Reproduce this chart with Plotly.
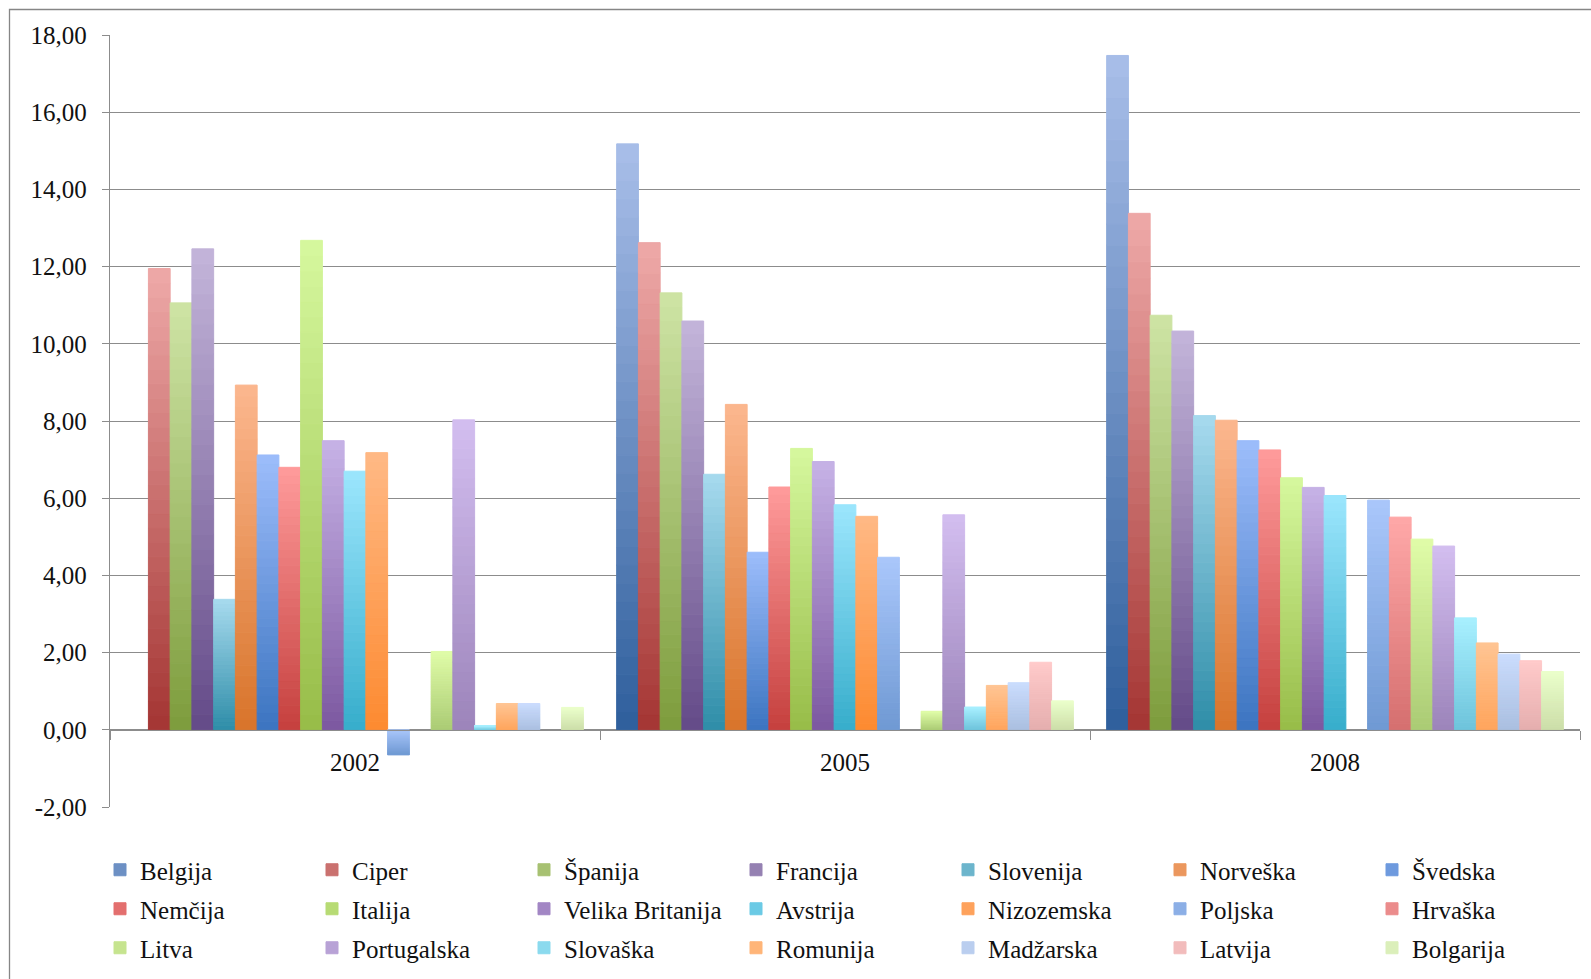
import plotly.graph_objects as go

# ---- data -----------------------------------------------------------------
years = ["2002", "2005", "2008"]

countries = [
    "Belgija", "Ciper", "Španija", "Francija", "Slovenija", "Norveška", "Švedska",
    "Nemčija", "Italija", "Velika Britanija", "Avstrija", "Nizozemska", "Poljska", "Hrvaška",
    "Litva", "Portugalska", "Slovaška", "Romunija", "Madžarska", "Latvija", "Bolgarija",
]

values_2002 = [None, 11.95, 11.06, 12.46, 3.38, 8.93, 7.12,
               6.80, 12.68, 7.49, 6.70, 7.18, -0.65, None,
               2.03, 8.03, 0.11, 0.68, 0.68, None, 0.58]

values_2005 = [15.18, 12.62, 11.32, 10.59, 6.62, 8.43, 4.60,
               6.29, 7.29, 6.95, 5.83, 5.53, 4.47, None,
               0.48, 5.57, 0.59, 1.15, 1.22, 1.75, 0.75]

values_2008 = [17.47, 13.38, 10.74, 10.33, 8.14, 8.02, 7.49,
               7.25, 6.53, 6.28, 6.07, None, 5.95, 5.51,
               4.94, 4.76, 2.90, 2.25, 1.96, 1.79, 1.51]

y_ticks = [-2, 0, 2, 4, 6, 8, 10, 12, 14, 16, 18]
y_tick_labels = ["-2,00", "0,00", "2,00", "4,00", "6,00", "8,00",
                 "10,00", "12,00", "14,00", "16,00", "18,00"]

# ---- styling --------------------------------------------------------------
# gradient end colours for every series (base of the bar -> top of the bar)
bottom_colors = ["#2E5E9C", "#A43533", "#7D9C3C", "#644A88", "#2E8DA8", "#D8742A", "#3B74C0",
                 "#C5403E", "#97BC48", "#7C58A0", "#36ADCB", "#FD8A30", "#6F99D3", "#D56F6F",
                 "#AACB74", "#9C84BA", "#6DC3DB", "#FFA45C", "#AABFE0", "#E5AEAE", "#CCDDA8"]
top_colors = ["#A9BFE9", "#EEA9A8", "#CEE4A5", "#C3B5DA", "#A7DAEE", "#FCB78F", "#9DBDFB",
              "#FF9B9B", "#D6F89E", "#C6B2E6", "#9CE6FD", "#FFB985", "#AAC7FB", "#FFA8A8",
              "#E0FCA8", "#D3BEF0", "#A8F0FF", "#FFC593", "#CADCFD", "#FFCACA", "#EAFFCB"]

FONT = "Liberation Serif, Times New Roman, serif"
TEXT = "#111111"
GRID = "#8c8c8c"
N_BANDS = 32           # vertical colour bands used to shade each bar
PER_ROW = 7            # legend entries per row

W, H = 1591, 979
M_L, M_R, M_T, M_B = 110, 11, 35, 172
PLOT_W = W - M_L - M_R
PLOT_H = H - M_T - M_B
Y_MIN, Y_MAX = y_ticks[0], y_ticks[-1]


def hex_to_rgb(h):
    h = h.lstrip("#")
    return tuple(int(h[i:i + 2], 16) for i in (0, 2, 4))


def mix(c0, c1, t):
    a, b = hex_to_rgb(c0), hex_to_rgb(c1)
    r, g, bl = (round(a[j] + (b[j] - a[j]) * t) for j in range(3))
    return f"rgb({r},{g},{bl})"


def px_to_paper_y(py):
    return (H - M_B - py) / PLOT_H


def px_to_paper_x(px):
    return (px - M_L) / PLOT_W


fig = go.Figure()

series_values = list(zip(values_2002, values_2005, values_2008))
legend_ids = ["legend", "legend2", "legend3"]

for i, name in enumerate(countries):
    vals = series_values[i]
    for k in range(N_BANDS):
        base = [None if v is None else v * k / N_BANDS for v in vals]
        step = [None if v is None else v / N_BANDS for v in vals]
        cols = []
        for v in vals:
            t = (k + 0.5) / N_BANDS
            if v is not None and v < 0:
                t = 1 - t
            cols.append(mix(bottom_colors[i], top_colors[i], t))
        fig.add_trace(go.Bar(
            x=years, y=step, base=base,
            name=name, offsetgroup=name, legendgroup=name,
            legend=legend_ids[i // PER_ROW],
            showlegend=(k == N_BANDS // 2),
            marker=dict(color=cols, line=dict(color=cols, width=1)),
            customdata=list(vals),
            hovertemplate=name + " %{x}: %{customdata:.2f}<extra></extra>",
        ))

legend_common = dict(
    orientation="h",
    x=px_to_paper_x(100), xanchor="left", yanchor="middle",
    font=dict(family=FONT, size=25, color=TEXT),
    entrywidth=167, entrywidthmode="pixels",
    bgcolor="rgba(0,0,0,0)", borderwidth=0,
    itemclick=False, itemdoubleclick=False,
)

fig.update_layout(
    width=W, height=H,
    margin=dict(l=M_L, r=M_R, t=M_T, b=M_B, autoexpand=False),
    paper_bgcolor="white", plot_bgcolor="white",
    barmode="group", bargap=0.068, bargroupgap=0,
    font=dict(family=FONT, size=25, color=TEXT),
    legend=dict(legend_common, y=px_to_paper_y(870)),
    legend2=dict(legend_common, y=px_to_paper_y(909)),
    legend3=dict(legend_common, y=px_to_paper_y(948)),
    xaxis=dict(
        type="category", categoryorder="array", categoryarray=years,
        range=[-0.5, 2.5],
        anchor="free", position=(0 - Y_MIN) / (Y_MAX - Y_MIN),
        showline=True, linecolor=GRID, linewidth=1.3,
        ticks="outside", ticklen=9, tickwidth=1.3, tickcolor=GRID,
        tickson="boundaries", showgrid=False, zeroline=False,
        tickfont=dict(family=FONT, size=25, color=TEXT),
        ticklabelstandoff=10,
    ),
    yaxis=dict(
        range=[Y_MIN, Y_MAX], tickmode="array",
        tickvals=y_ticks, ticktext=y_tick_labels,
        showgrid=True, gridcolor=GRID, gridwidth=1.3, zeroline=False,
        showline=True, linecolor=GRID, linewidth=1.3,
        ticks="outside", ticklen=7, tickwidth=1.3, tickcolor=GRID,
        tickfont=dict(family=FONT, size=25, color=TEXT),
        ticklabelstandoff=10,
    ),
    shapes=[dict(
        type="rect", xref="paper", yref="paper",
        x0=px_to_paper_x(9.5), x1=px_to_paper_x(W + 20),
        y0=px_to_paper_y(H + 20), y1=px_to_paper_y(9.5),
        line=dict(color="#868686", width=1.3), fillcolor="rgba(0,0,0,0)",
        layer="below",
    )],
)

fig.write_html("out.html")
